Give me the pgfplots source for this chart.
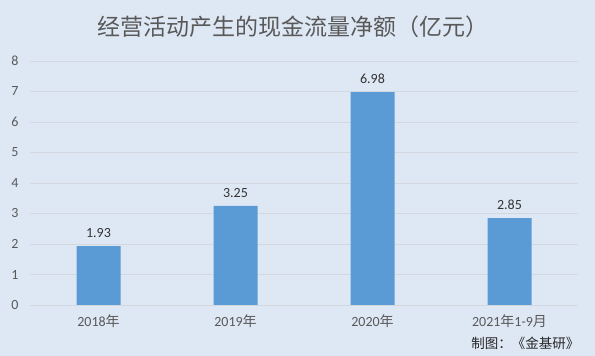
\documentclass[border=0pt]{standalone}
\usepackage{fontspec}
\setmainfont{Carlito}
\newfontfamily\cjk{Noto Sans CJK SC}
\usepackage{pgfplots}
\pgfplotsset{compat=1.18}
\definecolor{bg}{HTML}{DEE8F4}
\definecolor{barc}{HTML}{5B9BD5}
\definecolor{txt}{HTML}{595959}
\definecolor{gridc}{HTML}{D3D8DE}
\begin{document}
\begin{tikzpicture}[x=1pt,y=1pt]
\fill[bg] (0,0) rectangle (595,356);
\begin{axis}[
  at={(30pt,51pt)}, anchor=south west,
  scale only axis, width=548pt, height=244pt,
  xmin=-0.5, xmax=3.5, ymin=0, ymax=8,
  ytick={0,1,...,8},
  xtick=data,
  xticklabels={2018{\cjk 年},2019{\cjk 年},2020{\cjk 年},2021{\cjk 年}1-9{\cjk 月}},
  axis line style={draw=none},
  ymajorgrids, grid style={draw=gridc, line width=0.8pt},
  major tick length=0pt,
  tick label style={font=\fontsize{14}{16}\selectfont, text=txt},
  /pgf/number format/assume math mode=true,
  yticklabel style={xshift=-8pt},
  xticklabel style={yshift=-6pt},
  nodes near coords,
  nodes near coords style={font=\fontsize{14}{16}\selectfont, text=black!80, yshift=5pt, /pgf/number format/fixed, /pgf/number format/precision=2, /pgf/number format/fixed zerofill},
  clip=false,
]
\addplot[ybar, bar width=44pt, fill=barc, draw=none] coordinates {(0,1.93) (1,3.25) (2,6.98) (3,2.85)};
\draw[gridc, line width=0.8pt] (axis cs:-0.5,0) -- (axis cs:3.5,0);
\end{axis}
\node[text=txt, font=\cjk\fontsize{23}{27}\selectfont] at (293,329) {经营活动产生的现金流量净额（亿元）};
\node[anchor=east, text=black!85, font=\cjk\fontsize{13.5}{16}\selectfont] at (583,13) {制图：《金基研》};
\end{tikzpicture}
\end{document}
